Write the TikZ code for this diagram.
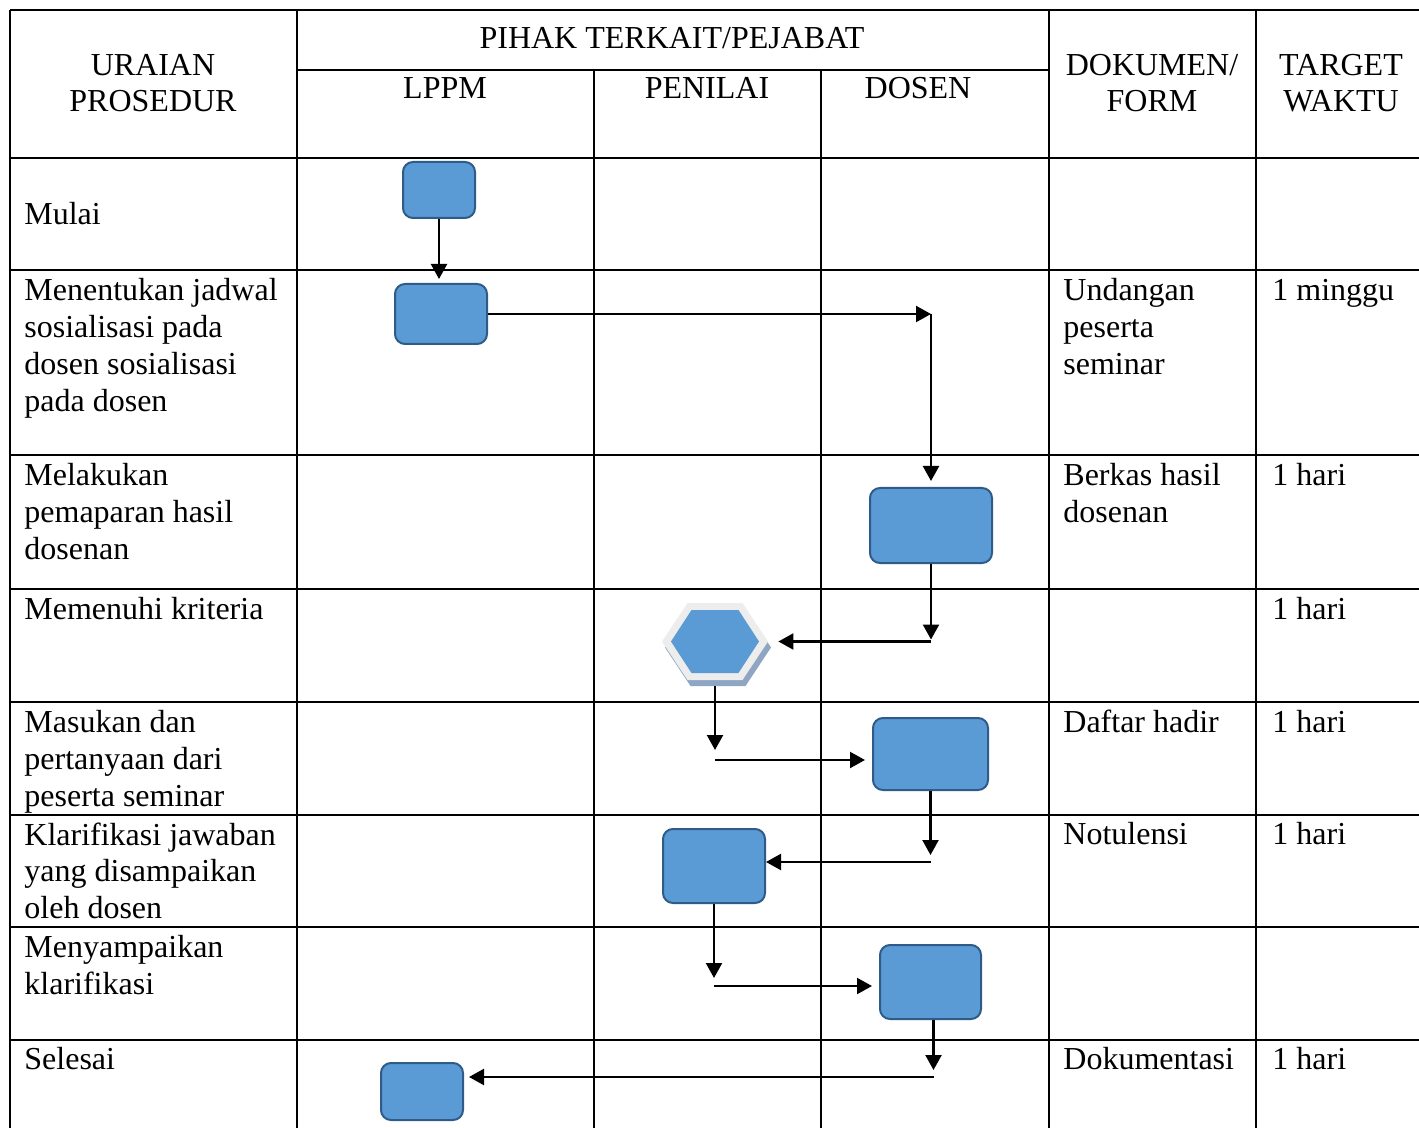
\documentclass[tikz,border=0pt]{standalone}
\usepackage{fontspec}
\setmainfont{Liberation Serif}
\usetikzlibrary{arrows.meta,calc,positioning}

\definecolor{boxfill}{HTML}{5B9BD5}
\definecolor{boxline}{HTML}{2F5B88}
\definecolor{hexrim}{HTML}{EDEDED}
\definecolor{hexshade}{HTML}{8EA6C2}

\begin{document}
\begin{tikzpicture}[
    x=0.5pt, y=-0.5pt,
    langkah/.style={draw=boxline, fill=boxfill, rounded corners=5pt, line width=1pt, inner sep=0pt},
    panah/.style={-{Triangle[length=7.5pt,width=8pt]}, line width=1.1pt},
    isi/.style={anchor=north west, align=left, inner sep=0pt, font=\fontsize{16}{18.35}\selectfont,
      execute at begin node=\strut},
    kepala/.style={anchor=base, align=center, inner sep=0pt, font=\fontsize{16}{18.35}\selectfont}
  ]
  \useasboundingbox (0,0) rectangle (1419,1128);

  % garis tabel
  \begin{scope}[line width=1.25pt]
    \foreach \y in {10,158,270,455,589,702,815,927,1040}
      \draw (10,\y) -- (1419,\y);
    \draw (297,70) -- (1049,70);
    \foreach \x in {10,297,1049,1256}
      \draw (\x,10) -- (\x,1128);
    \foreach \x in {594,821}
      \draw (\x,70) -- (\x,1128);
  \end{scope}

  % kepala tabel (base = baris terakhir)
  \node (uraian) [kepala] at (153,112)  {URAIAN\\PROSEDUR};
  \node (pihak)  [kepala] at (672,48.5) {PIHAK TERKAIT/PEJABAT};
  \node (lppm)   [kepala] at (445,98.5) {LPPM};
  \node (nilai)  [kepala] at (707,98.5) {PENILAI};
  \node (dosen)  [kepala] at (918,98.5) {DOSEN};
  \node (dok)    [kepala] at (1152,112) {DOKUMEN/\\FORM};
  \node (waktu)  [kepala] at (1341,112) {TARGET\\WAKTU};

  % uraian prosedur
  \node (u1) [isi] at (24,198.3)  {Mulai};
  \node (u2) [isi] at (24,278.3)  {Menentukan jadwal\\sosialisasi pada\\dosen sosialisasi\\pada dosen};
  \node (u3) [isi] at (24,463.3)  {Melakukan\\pemaparan hasil\\dosenan};
  \node (u4) [isi] at (24,593.3)  {Memenuhi kriteria};
  \node (u5) [isi] at (24,710.3)  {Masukan dan\\pertanyaan dari\\peserta seminar};
  \node (u6) [isi] at (24,822.3)  {Klarifikasi jawaban\\yang disampaikan\\oleh dosen};
  \node (u7) [isi] at (24,935.3)  {Menyampaikan\\klarifikasi};
  \node (u8) [isi] at (24,1043.3) {Selesai};

  % dokumen dan target waktu
  \node (d2) [isi] at (1063,278.3)  {Undangan\\peserta\\seminar};
  \node (d3) [isi] at (1063,463.3)  {Berkas hasil\\dosenan};
  \node (d5) [isi] at (1063,706.3)  {Daftar hadir};
  \node (d6) [isi] at (1063,818.3)  {Notulensi};
  \node (d8) [isi] at (1063,1043.3) {Dokumentasi};
  \node (t2) [isi] at (1272,274.3)  {1 minggu};
  \foreach \y/\n in {459.3/t3,593.3/t4,706.3/t5,818.3/t6,1043.3/t8}
    \node (\n) [isi] at (1272,\y) {1 hari};

  % langkah
  \node (b1) [langkah, minimum width=36pt,   minimum height=28pt]   at (439,190)    {};
  \node (b2) [langkah, minimum width=46pt,   minimum height=30pt]   at (441,314)    {};
  \node (b3) [langkah, minimum width=61pt,   minimum height=37.5pt] at (931,525.5)  {};
  \node (b4) [langkah, minimum width=57.5pt, minimum height=36pt]   at (930.5,754)  {};
  \node (b5) [langkah, minimum width=51pt,   minimum height=37pt]   at (714,866)    {};
  \node (b6) [langkah, minimum width=50.5pt, minimum height=37pt]   at (930.5,982)  {};
  \node (b7) [langkah, minimum width=41pt,   minimum height=28.5pt] at (422,1091.5) {};

  % keputusan
  \node (hx) [minimum width=53pt, minimum height=38.5pt, inner sep=0pt] at (715,641.5) {};
  \begin{scope}[shift={(hx.center)}]
    \fill[hexshade] (-50,6) -- (-24.5,-32.5) -- (30.5,-32.5) -- (56,6) -- (30.5,44.5) -- (-24.5,44.5) -- cycle;
    \fill[hexrim] (-53,0) -- (-27.5,-38.5) -- (27.5,-38.5) -- (53,0) -- (27.5,38.5) -- (-27.5,38.5) -- cycle;
    \fill[boxfill] (-44,0) -- (-23.5,-31.5) -- (23.5,-31.5) -- (44,0) -- (23.5,31.5) -- (-23.5,31.5) -- cycle;
  \end{scope}

  % alur
  \coordinate (e1) at (b3.north |- b2.east);
  \coordinate (e2) at (b3.south |- hx.east);
  \coordinate (e3) at ($(hx.south |- b4.west)+(0,6)$);
  \coordinate (e4) at ($(b4.south |- b5.east)+(0,-4)$);
  \coordinate (e5) at ($(b5.south |- b6.west)+(0,4)$);
  \coordinate (e6) at ($(b6.south)+(3,57)$);

  \draw[panah, shorten >=2pt] (b1.south) -- (b1.south |- b2.north);
  \draw[panah] (b2.east) -- (e1);
  \draw[panah, shorten >=3pt] (e1) -- (b3.north);
  \draw[panah, shorten >=1pt] (b3.south) -- (e2);
  \draw[panah, shorten >=5pt] (e2) -- (hx.east);
  \draw[panah, shorten >=5pt] ($(hx.south)+(0,6)$) -- (e3);
  \draw[panah, shorten >=3.5pt] (e3) -- (e3 -| b4.west);
  \draw[panah, shorten >=3.5pt] (b4.south) -- (e4);
  \draw[panah] (e4) -- (e4 -| b5.east);
  \draw[panah, shorten >=4pt] (b5.south) -- (e5);
  \draw[panah, shorten >=3.5pt] (e5) -- (e5 -| b6.west);
  \draw[panah, shorten >=3.5pt] ($(b6.south)+(3,0)$) -- (e6);
  \draw[panah, shorten >=2.5pt] (e6) -- (e6 -| b7.east);
\end{tikzpicture}
\end{document}
